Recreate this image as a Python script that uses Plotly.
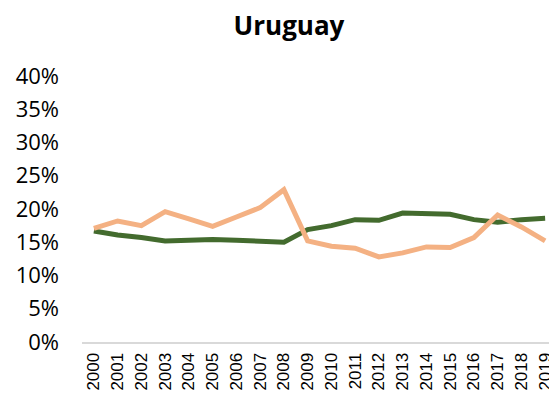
import plotly.graph_objects as go

years = [str(y) for y in range(2000, 2020)]

# green series
green_values = [0.167, 0.161, 0.157, 0.152, 0.153, 0.154, 0.153, 0.151, 0.150, 0.169,
                0.175, 0.184, 0.183, 0.194, 0.193, 0.192, 0.184, 0.180, 0.184, 0.186]
# orange series
orange_values = [0.171, 0.182, 0.175, 0.196, 0.185, 0.174, 0.188, 0.202, 0.229, 0.152,
                 0.144, 0.141, 0.128, 0.134, 0.143, 0.142, 0.157, 0.191, 0.173, 0.152]

y_ticks = [0, 0.05, 0.10, 0.15, 0.20, 0.25, 0.30, 0.35, 0.40]
y_labels = ["0%", "5%", "10%", "15%", "20%", "25%", "30%", "35%", "40%"]

fig = go.Figure()
fig.add_trace(go.Scatter(x=years, y=green_values, mode="lines",
                         line=dict(color="#436b2e", width=5), name="green"))
fig.add_trace(go.Scatter(x=years, y=orange_values, mode="lines",
                         line=dict(color="#f4b183", width=5), name="orange"))

# page body has an 8px margin, so everything is shifted 8px left/up here
fig.update_layout(
    width=557, height=405,
    margin=dict(l=66, r=8, t=68, b=71),
    paper_bgcolor="white", plot_bgcolor="white",
    showlegend=False,
    title=dict(text="<b>Uruguay</b>", x=281 / 557, xanchor="center",
               y=1 - 18 / 405, yanchor="middle",
               font=dict(family="Open Sans", size=26, color="black")),
)
fig.update_xaxes(
    type="category", range=[-0.5, 19.5], tickangle=-90, showgrid=False,
    showline=True, linecolor="#d9d9d9", linewidth=2,
    tickfont=dict(family="Liberation Sans", size=17, color="black"),
    ticks="", ticklabelstandoff=2,
)
fig.update_yaxes(
    range=[0, 0.4], tickvals=y_ticks, ticktext=y_labels,
    showgrid=False, zeroline=False, showline=False,
    tickfont=dict(family="Open Sans", size=22, color="black"),
    ticklabelstandoff=22,
)

fig.write_html("out.html")
